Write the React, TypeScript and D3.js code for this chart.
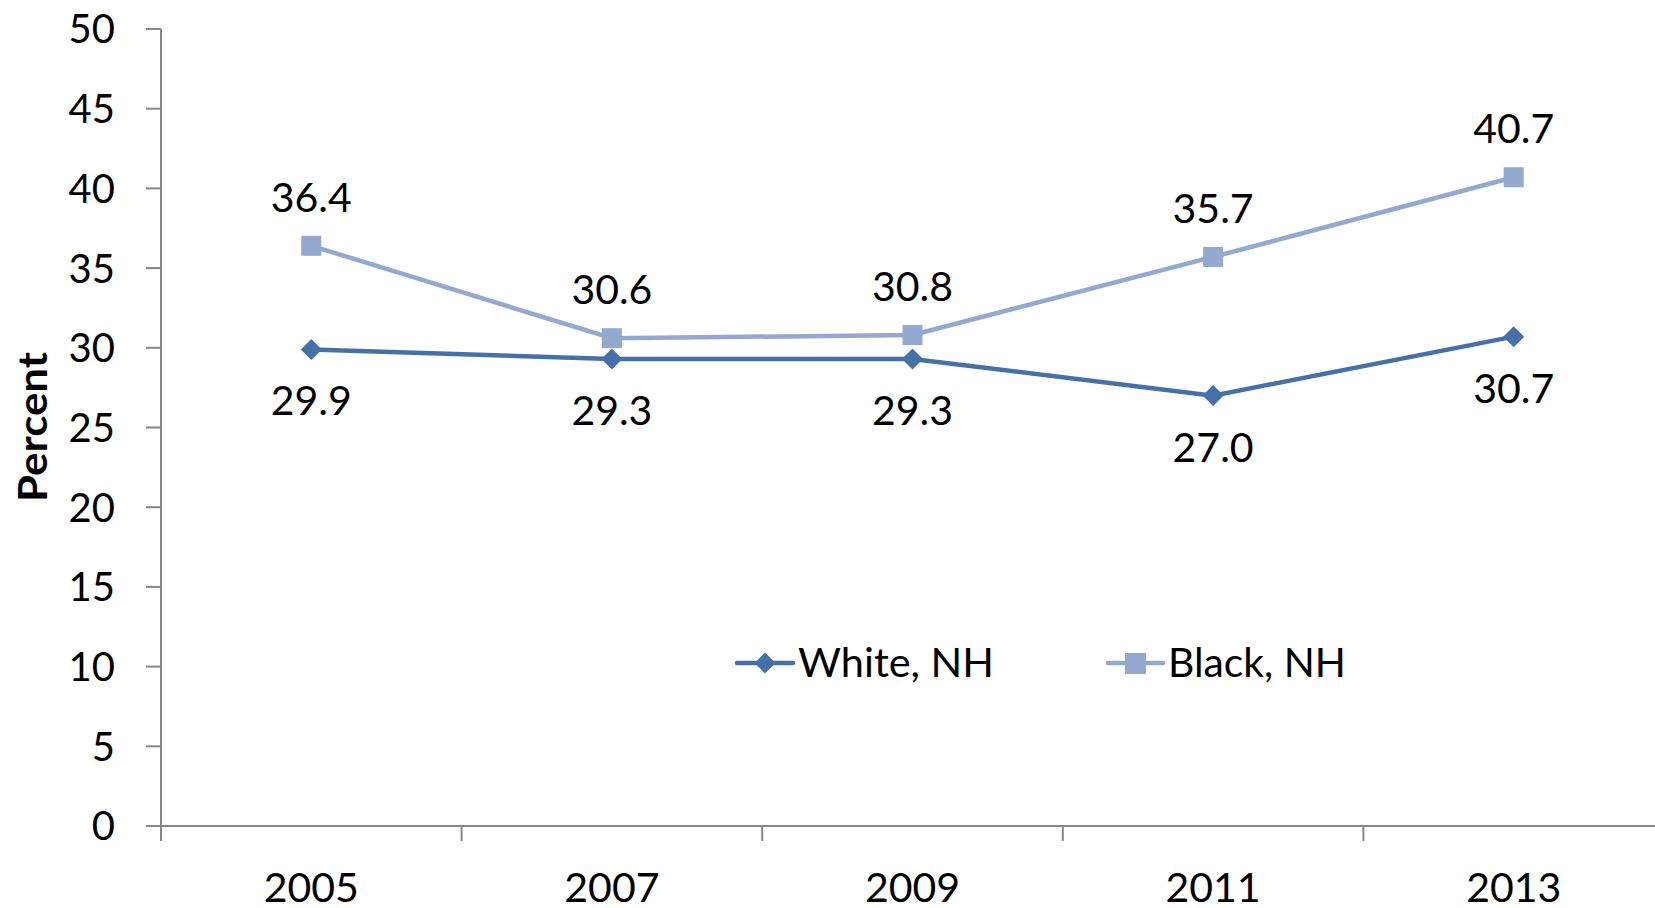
import React from "react";
import * as d3 from "d3";

const years = ["2005", "2007", "2009", "2011", "2013"];
const whiteNH = [29.9, 29.3, 29.3, 27.0, 30.7];
const blackNH = [36.4, 30.6, 30.8, 35.7, 40.7];
const yTicks = [0, 5, 10, 15, 20, 25, 30, 35, 40, 45, 50];

const W = 1655;
const H = 908;
const FONT = "Lato, 'Open Sans', sans-serif";
const WHITE_C = "#4571a8";
const BLACK_C = "#93a9cf";
const AXIS_C = "#878787";

const App: React.FC = () => {
  // band scale: axis ticks at band edges, points at band centres
  const x = d3.scaleBand<string>().domain(years).range([161, 1664]);
  const y = d3.scaleLinear().domain([0, 50]).range([826, 29]);
  const cx = (yr: string) => (x(yr) ?? 0) + x.bandwidth() / 2;

  const line = d3
    .line<number>()
    .x((_, i) => cx(years[i]))
    .y((d) => y(d));

  const diamond = (px: number, py: number, r: number) =>
    `M${px},${py - r}L${px + r},${py}L${px},${py + r}L${px - r},${py}Z`;

  return (
    <svg
      width={W}
      height={H}
      style={{ position: "absolute", left: 0, top: 0, background: "#fff" }}
      fontFamily={FONT}
    >
      {/* y axis */}
      <line x1={161} x2={161} y1={y(50)} y2={y(0) + 15} stroke={AXIS_C} strokeWidth={2} />
      {yTicks.map((t) => (
        <g key={t}>
          <line x1={146} x2={161} y1={y(t)} y2={y(t)} stroke={AXIS_C} strokeWidth={2} />
          <text x={115} y={y(t)} dy="0.36em" textAnchor="end" fontSize={40} fill="#000">
            {t}
          </text>
        </g>
      ))}
      <text
        transform={`translate(47,427) rotate(-90)`}
        textAnchor="middle"
        fontSize={40}
        fontWeight="bold"
        fill="#000"
        textLength={150}
        lengthAdjust="spacingAndGlyphs"
      >
        Percent
      </text>

      {/* x axis */}
      <line x1={161} x2={W} y1={y(0)} y2={y(0)} stroke={AXIS_C} strokeWidth={2} />
      {years.map((yr) => (
        <g key={yr}>
          <line
            x1={x(yr)}
            x2={x(yr)}
            y1={y(0)}
            y2={y(0) + 15}
            stroke={AXIS_C}
            strokeWidth={2}
          />
          <text x={cx(yr)} y={902} textAnchor="middle" fontSize={41} fill="#000">
            {yr}
          </text>
        </g>
      ))}

      {/* series lines */}
      <path d={line(blackNH) ?? ""} fill="none" stroke={BLACK_C} strokeWidth={4.5} />
      <path d={line(whiteNH) ?? ""} fill="none" stroke={WHITE_C} strokeWidth={4.5} />

      {blackNH.map((v, i) => (
        <g key={"b" + i}>
          <rect x={cx(years[i]) - 10} y={y(v) - 10} width={20} height={20} fill={BLACK_C} />
          <text x={cx(years[i])} y={y(v) - 34} textAnchor="middle" fontSize={41} fill="#000">
            {v.toFixed(1)}
          </text>
        </g>
      ))}
      {whiteNH.map((v, i) => (
        <g key={"w" + i}>
          <path d={diamond(cx(years[i]), y(v), 10.5)} fill={WHITE_C} />
          <text x={cx(years[i])} y={y(v) + 66} textAnchor="middle" fontSize={41} fill="#000">
            {v.toFixed(1)}
          </text>
        </g>
      ))}

      {/* legend */}
      <g>
        <line x1={737} x2={793} y1={663} y2={663} stroke={WHITE_C} strokeWidth={4.5} strokeLinecap="round" />
        <path d={diamond(765, 663, 10.5)} fill={WHITE_C} />
        <text x={798} y={677} fontSize={41} fill="#000" textLength={196} lengthAdjust="spacingAndGlyphs">
          White, NH
        </text>
        <line x1={1108} x2={1163} y1={663} y2={663} stroke={BLACK_C} strokeWidth={4.5} strokeLinecap="round" />
        <rect x={1125} y={653} width={21} height={21} fill={BLACK_C} />
        <text x={1168} y={677} fontSize={41} fill="#000" textLength={178} lengthAdjust="spacingAndGlyphs">
          Black, NH
        </text>
      </g>
    </svg>
  );
};

export default App;
